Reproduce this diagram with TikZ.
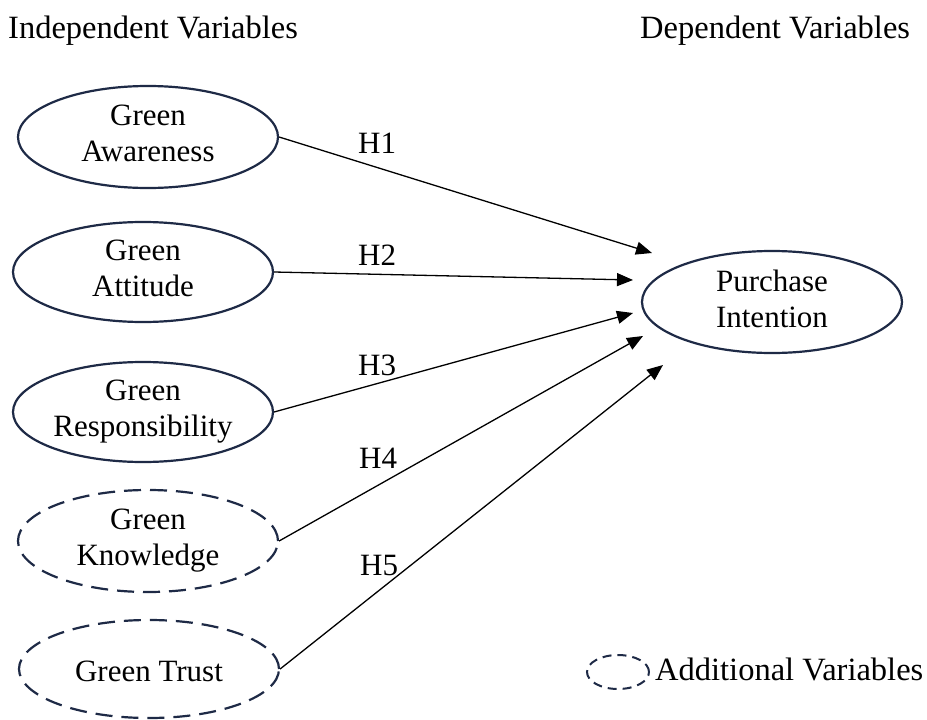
\documentclass[tikz,border=0pt]{standalone}
\usepackage{fontspec}
\setmainfont{Liberation Serif}
\usetikzlibrary{arrows.meta,shapes.geometric}
\definecolor{navy}{HTML}{1E2A46}
\begin{document}
\begin{tikzpicture}[x=1pt,y=-1pt,
  txt/.style={font=\fontsize{31}{36}\selectfont, inner sep=0pt},
  big/.style={font=\fontsize{32.5}{36}\selectfont, inner sep=0pt},
  var/.style={ellipse, draw=navy, line width=2.2pt, minimum width=260pt, minimum height=102pt,
    inner sep=0pt, align=center, font=\fontsize{31}{36}\selectfont},
  addvar/.style={var, dash pattern=on 17pt off 9pt},
  hyp/.style={-{Triangle[length=16pt,width=13pt]}, line width=1.3pt, black},
  hlab/.style={txt, anchor=base west}]
\useasboundingbox (0,0) rectangle (927,720);
\fill[white] (0,0) rectangle (927,720);
% headers
\node[big, anchor=base west] (hind) at (8,38) {Independent Variables};
\node[big, anchor=base west] (hdep) at (640,38) {Dependent Variables};
% variables
\node[var] (aw) at (148,137) {Green\\Awareness\vphantom{g}};
\node[var, minimum height=100pt] (at) at (143,272) {Green\\Attitude\vphantom{g}};
\node[var, minimum height=100pt] (re) at (143,412) {Green\\Responsibility};
\node[addvar] (kn) at (148,541) {Green\\Knowledge};
\node[addvar, minimum height=98pt] (tr) at (149,669) {};
\node[txt, anchor=base] (trt) at (149,681) {Green Trust};
\node[var] (pi) at (772,302) {Purchase\\Intention\vphantom{g}};
% arrow tips
\coordinate (t1) at (652,253);
\coordinate (t2) at (633,280);
\coordinate (t3) at (633,313);
\coordinate (t4) at (643,336);
\coordinate (t5) at (663,365);
\draw[hyp] (aw.east) -- (t1);
\draw[hyp] (at.east) -- (t2);
\draw[hyp] (re.east) -- (t3);
\draw[hyp] (kn.east) -- (t4);
\draw[hyp] (tr.east) -- (t5);
% labels
\node[hlab] (h1) at (358,153) {H1};
\node[hlab] (h2) at (358,265) {H2};
\node[hlab] (h3) at (358,375) {H3};
\node[hlab] (h4) at (359,468) {H4};
\node[hlab] (h5) at (360,575) {H5};
% legend
\node[ellipse, draw=navy, line width=2pt, dash pattern=on 9pt off 6pt, minimum width=62pt, minimum height=34pt, inner sep=0pt] (leg) at (618,672) {};
\node[big, anchor=base west] (legt) at (655,680) {Additional Variables};
\end{tikzpicture}
\end{document}
